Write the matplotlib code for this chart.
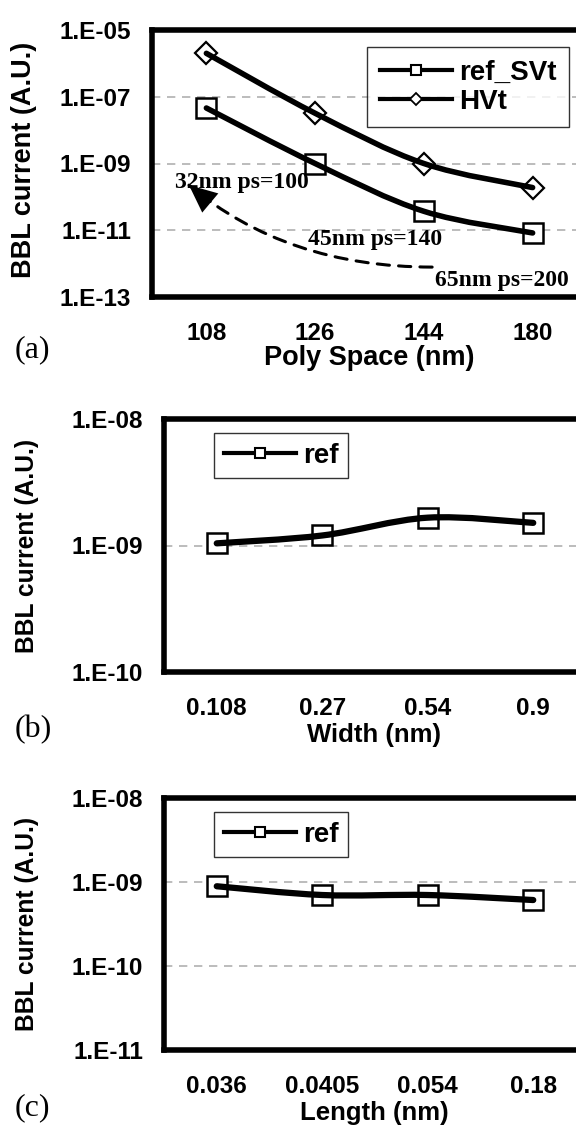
import numpy as np
import matplotlib
matplotlib.use('Agg')
import matplotlib.pyplot as plt
from matplotlib.path import Path
from matplotlib.patches import PathPatch
from matplotlib.lines import Line2D
import matplotlib.ticker as ticker

# ---- data ----
ps_labels = ['108', '126', '144', '180']
ref_svt = [4.6e-8, 1.0e-9, 3.7e-11, 8.3e-12]
hvt = [2.0e-6, 3.2e-8, 1.0e-9, 1.9e-10]

width_labels = ['0.108', '0.27', '0.54', '0.9']
ref_width = [1.04e-9, 1.2e-9, 1.66e-9, 1.51e-9]

length_labels = ['0.036', '0.0405', '0.054', '0.18']
ref_length = [8.9e-10, 7.0e-10, 7.0e-10, 6.1e-10]

ylab = 'BBL current (A.U.)'
sans = 'Liberation Sans'
serif = 'Liberation Serif'


def smooth_line(ax, xs, ys, lw=4):
    # excel-like smoothed line: catmull-rom bezier in (x, log y) space
    pts = np.column_stack([np.asarray(xs, float), np.log10(ys)])
    n = len(pts)
    verts = [pts[0]]
    codes = [Path.MOVETO]
    for i in range(n - 1):
        p0 = pts[max(i - 1, 0)]
        p1 = pts[i]
        p2 = pts[i + 1]
        p3 = pts[min(i + 2, n - 1)]
        verts += [p1 + (p2 - p0) / 6.0, p2 - (p3 - p1) / 6.0, p2]
        codes += [Path.CURVE4] * 3
    verts = np.array(verts)
    verts[:, 1] = 10 ** verts[:, 1]
    ax.add_patch(PathPatch(Path(verts, codes), fill=False, lw=lw,
                           color='k', transform=ax.transData, zorder=4,
                           capstyle='round', joinstyle='round'))


def yfmt(v, pos):
    return '1.E%03d' % int(round(np.log10(v)))


def setup(ax, labels, ylim, yticks, grid, xlabel, ysize, xsize):
    ax.set_yscale('log')
    ax.set_xlim(-0.5, 3.5)
    ax.set_ylim(*ylim)
    ax.yaxis.set_major_locator(ticker.FixedLocator(yticks))
    ax.yaxis.set_minor_locator(ticker.NullLocator())
    ax.yaxis.set_major_formatter(ticker.FuncFormatter(yfmt))
    ax.set_xticks(range(len(labels)))
    ax.set_xticklabels(labels)
    ax.tick_params(axis='both', length=0)
    ax.tick_params(axis='y', pad=15, labelsize=17.5)
    ax.tick_params(axis='x', pad=18, labelsize=17.5)
    for lab in ax.get_xticklabels() + ax.get_yticklabels():
        lab.set_fontfamily(sans)
        lab.set_fontweight('bold')
    for g in grid:
        ax.axhline(g, color='#b0b0b0', lw=1.2, ls=(0, (5, 4)), zorder=1)
    for sp in ax.spines.values():
        sp.set_linewidth(4)
    ax.set_ylabel(ylab, fontsize=ysize, fontweight='bold', family=sans,
                  va='center')
    ax.set_xlabel(xlabel, fontsize=xsize, fontweight='bold', family=sans,
                  va='center')


def make_legend(ax, handles, names, anchor, pad, spacing):
    lg = ax.legend(handles, names, loc='upper left', bbox_to_anchor=anchor,
                   frameon=True, fancybox=False, handlelength=2.6,
                   handletextpad=0.25, borderpad=pad, labelspacing=spacing,
                   borderaxespad=0,
                   prop={'family': sans, 'weight': 'bold', 'size': 20})
    lg.get_frame().set_edgecolor('k')
    lg.get_frame().set_linewidth(1)
    return lg


fig = plt.figure(figsize=(5.76, 11.25), dpi=100)
W, H = 576.0, 1125.0

# ---------------- (a) ----------------
ax1 = fig.add_axes([152 / W, 1 - 297 / H, 435 / W, 267 / H])
setup(ax1, ps_labels, (1e-13, 1e-5), [1e-13, 1e-11, 1e-9, 1e-7, 1e-5],
      [1e-11, 1e-9, 1e-7], 'Poly Space (nm)', 19.5, 19.5)
x = np.arange(len(ps_labels))
ax1.plot(x, ref_svt, ls='none', marker='s', ms=14, mfc='white', mec='k',
         mew=1.8, zorder=3)
ax1.plot(x, hvt, ls='none', marker='D', ms=11, mfc='white', mec='k',
         mew=1.6, zorder=3)
smooth_line(ax1, x, ref_svt)
smooth_line(ax1, x, hvt)
h1 = Line2D([], [], color='k', lw=3, marker='s', ms=7, mfc='white', mew=1.5)
h2 = Line2D([], [], color='k', lw=3, marker='D', ms=6, mfc='white', mew=1.3)
make_legend(ax1, [h1, h2], ['ref_SVt', 'HVt'], (0.495, 0.935), 0.45, 0.1)

anno = dict(family=serif, weight='bold', size=17, va='center', ha='left',
            transform=ax1.transAxes, zorder=6)
ax1.text(0.053, 0.427, '32nm ps=100', **anno)
ax1.text(0.359, 0.217, '45nm ps=140', **anno)
ax1.text(0.651, 0.060, '65nm ps=200', **anno)
# dashed curved arrow, head drawn solid on its own
tip = (0.085, 0.419)
ax1.annotate('', xy=tip, xytext=(0.644, 0.112),
             xycoords='axes fraction', textcoords='axes fraction',
             arrowprops=dict(arrowstyle='-', color='k', lw=2.2,
                             ls=(0, (4, 3)),
                             connectionstyle='angle3,angleA=0,angleB=-40',
                             shrinkA=0, shrinkB=0))
ax1.annotate('', xy=tip, xytext=(0.156, 0.322),
             xycoords='axes fraction', textcoords='axes fraction',
             arrowprops=dict(arrowstyle='-|>,head_length=1.0,head_width=0.45',
                             color='k', lw=0.01, shrinkA=0, shrinkB=0,
                             mutation_scale=20))
ax1.yaxis.set_label_coords(-0.294, 0.515)
ax1.xaxis.set_label_coords(0.499, -0.228)

# ---------------- (b) ----------------
ax2 = fig.add_axes([164 / W, 1 - 672 / H, 422 / W, 253 / H])
setup(ax2, width_labels, (1e-10, 1e-8), [1e-10, 1e-9, 1e-8], [1e-9],
      'Width (nm)', 17.7, 18.5)
x = np.arange(len(width_labels))
ax2.plot(x, ref_width, ls='none', marker='s', ms=14, mfc='white', mec='k',
         mew=1.8, zorder=3)
smooth_line(ax2, x, ref_width, lw=4.5)

# ---------------- (c) ----------------
ax3 = fig.add_axes([164 / W, 1 - 1050 / H, 422 / W, 252 / H])
setup(ax3, length_labels, (1e-11, 1e-8), [1e-11, 1e-10, 1e-9, 1e-8],
      [1e-10, 1e-9], 'Length (nm)', 17.7, 18.5)
x = np.arange(len(length_labels))
ax3.plot(x, ref_length, ls='none', marker='s', ms=14, mfc='white', mec='k',
         mew=1.8, zorder=3)
smooth_line(ax3, x, ref_length, lw=4.5)

for ax in (ax2, ax3):
    h = Line2D([], [], color='k', lw=3, marker='s', ms=7, mfc='white',
               mew=1.5)
    make_legend(ax, [h], ['ref'], (0.118, 0.945), 0.35, 0.0)
    ax.yaxis.set_label_coords(-0.325, 0.5)
    ax.xaxis.set_label_coords(0.498, -0.25)

# panel letters
for yy, s in [(350, '(a)'), (730, '(b)'), (1108, '(c)')]:
    fig.text(15 / W, 1 - yy / H, s, family=serif, size=23, va='center',
             ha='left')

fig.savefig('out.png', dpi=100)
